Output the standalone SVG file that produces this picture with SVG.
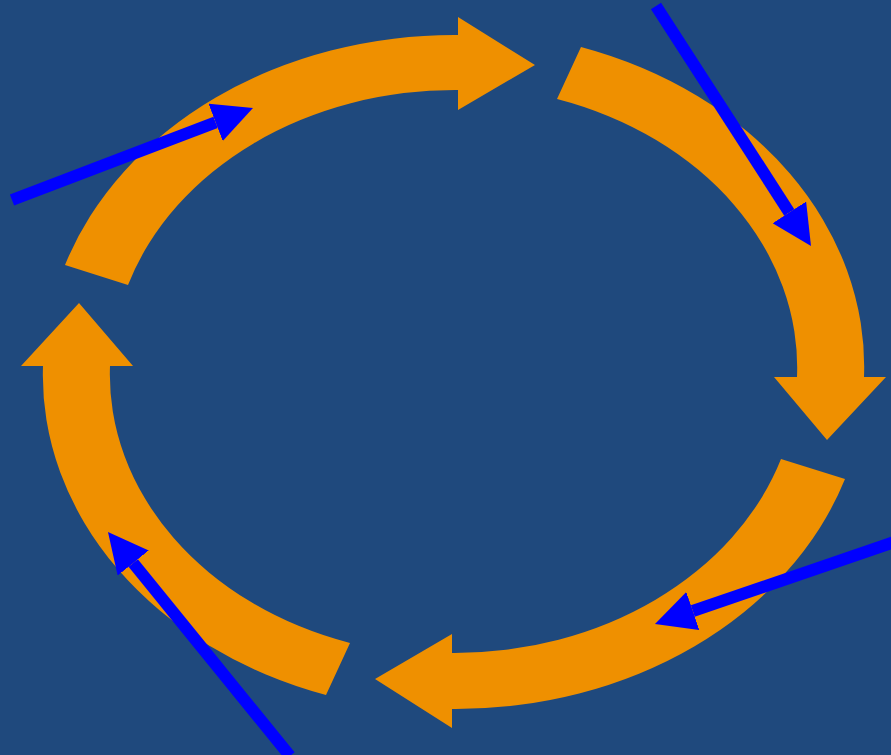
<svg xmlns="http://www.w3.org/2000/svg" width="891" height="755" viewBox="0 0 891 755">
  <style>
    .cycle { fill: #EF9000; stroke: none; }
    .flow { stroke: #0000FF; stroke-width: 12; fill: none; marker-end: url(#head); }
  </style>
  <defs>
    <marker id="head" markerUnits="userSpaceOnUse" viewBox="0 0 40 40" markerWidth="40" markerHeight="40" refX="0" refY="20" orient="auto">
      <path d="M0,0 L40,20 L0,40 Z" fill="#0000FF"/>
    </marker>
  </defs>
  <rect x="0" y="0" width="891" height="755" fill="#1F497D"/>
  <g id="arrow-top">
    <path class="cycle" d="M65,265 A410,336 0 0 1 458,35 L458,17 L535,65 L458,110 L458,90 A343.5,281.5 0 0 0 128,285 Z"/>
  </g>
  <g id="arrow-right">
    <path class="cycle" d="M581,47 A410,336 0 0 1 864,377 L886,377 L827,440 L774,377 L797,377 A343.5,281.5 0 0 0 557,99 Z"/>
  </g>
  <g id="arrow-bottom">
    <path class="cycle" d="M845,479 A410,336 0 0 1 452,709 L452,728 L375,679 L452,634 L452,653 A343.5,281.5 0 0 0 781,459 Z"/>
  </g>
  <g id="arrow-left">
    <path class="cycle" d="M326,695 A410,336 0 0 1 43,366 L21,366 L79,303 L133,366 L110,366 A343.5,281.5 0 0 0 350,643 Z"/>
  </g>
  <g id="connectors">
    <line class="flow" x1="12" y1="200" x2="215.6" y2="122.3"/>
    <line class="flow" x1="656" y1="6" x2="789.3" y2="212.4"/>
    <line class="flow" x1="900" y1="540" x2="692.8" y2="611"/>
    <line class="flow" x1="290" y1="756" x2="133.2" y2="563"/>
  </g>
</svg>
